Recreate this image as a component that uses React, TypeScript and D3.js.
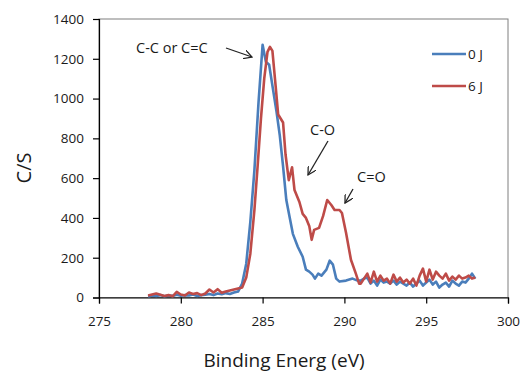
import React, { useRef, useEffect } from 'react';
import { select, scaleLinear, line, axisLeft, axisBottom } from 'd3';

// 0 J spectrum
const energy0 = [
  278.0, 278.25, 278.5, 278.75, 279.0, 279.25, 279.5, 279.75, 280.0, 280.25, 280.5, 280.75,
  281.0, 281.25, 281.5, 281.75, 282.0, 282.25, 282.5, 282.75, 283.0, 283.25, 283.5, 283.75,
  284.0, 284.25, 284.5, 284.75, 285.0, 285.2, 285.4, 285.6, 285.85, 286.05, 286.25, 286.45,
  286.65, 286.85, 287.15, 287.45, 287.65, 287.85, 288.05, 288.2, 288.4, 288.6, 288.9, 289.1,
  289.3, 289.5, 289.7, 290.1, 290.5, 290.8, 291.0, 291.2, 291.4, 291.6, 291.8, 292.0, 292.2,
  292.4, 292.6, 292.8, 293.0, 293.2, 293.4, 293.6, 293.8, 294.0, 294.2, 294.4, 294.6, 294.8,
  295.0, 295.2, 295.4, 295.6, 295.8, 296.0, 296.2, 296.4, 296.6, 296.8, 297.0, 297.2, 297.4,
  297.6, 297.8, 298.0,
];
const counts0 = [
  5, 10, 8, 12, 6, 10, 8, 14, 9, 12, 10, 15,
  8, 12, 14, 18, 12, 20, 16, 22, 18, 25, 30, 70,
  170, 380, 640, 980, 1270, 1185, 1170, 1065, 935, 815, 660, 490,
  405, 320, 255, 205, 140, 130, 115, 95, 120, 110, 140, 185,
  165, 95, 80, 85, 95, 85, 85, 95, 100, 70, 85, 60, 90,
  75, 80, 70, 85, 65, 80, 70, 60, 75, 55, 70, 85, 60,
  75, 90, 65, 80, 50, 65, 75, 55, 85, 70, 60, 80, 75,
  95, 120, 95,
];

// 6 J spectrum
const energy6 = [
  278.0, 278.25, 278.5, 278.75, 279.0, 279.25, 279.5, 279.75, 280.0, 280.25, 280.5, 280.75,
  281.0, 281.25, 281.5, 281.75, 282.0, 282.25, 282.5, 282.75, 283.0, 283.25, 283.5, 283.75,
  284.0, 284.25, 284.5, 284.7, 284.9, 285.1, 285.3, 285.45, 285.6, 285.8, 285.95, 286.1,
  286.25, 286.4, 286.6, 286.8, 286.95, 287.1, 287.25, 287.45, 287.65, 287.85, 288.0, 288.15,
  288.45, 288.7, 288.95, 289.2, 289.4, 289.7, 289.85, 290.1, 290.4, 290.7, 290.9, 291.0,
  291.2, 291.4, 291.6, 291.8, 292.0, 292.2, 292.4, 292.6, 292.8, 293.0, 293.2, 293.4, 293.6,
  293.8, 294.0, 294.2, 294.4, 294.6, 294.8, 295.0, 295.2, 295.4, 295.6, 295.8, 296.0, 296.2,
  296.4, 296.6, 296.8, 297.0, 297.2, 297.4, 297.6, 297.8, 298.0,
];
const counts6 = [
  10, 15, 20, 14, 8, 12, 6, 28, 15, 10, 25, 18,
  22, 12, 20, 40, 25, 42, 24, 30, 35, 40, 45, 50,
  100, 220, 440, 665, 900, 1100, 1235, 1260, 1240, 1060, 920, 900,
  880, 720, 590, 655, 540, 510, 480, 420, 400, 360, 290, 340,
  350, 410, 490, 465, 440, 440, 425, 325, 190, 120, 70, 70,
  95, 120, 75, 130, 80, 110, 85, 95, 70, 115, 80, 100, 75,
  90, 70, 95, 60, 110, 145, 80, 140, 90, 130, 110, 95, 120,
  85, 105, 90, 110, 95, 100, 110, 95, 100,
];

const xTicks = [275, 280, 285, 290, 295, 300];
const yTicks = [0, 200, 400, 600, 800, 1000, 1200, 1400];
const seriesNames = ['0 J', '6 J'];
const seriesColors = ['#4a7ebb', '#be4b48'];

const FONT = '"Open Sans", "Liberation Sans", sans-serif';

export default function App() {
  const svgRef = useRef<SVGSVGElement>(null);

  useEffect(() => {
    const svg = select(svgRef.current);
    svg.selectAll('*').remove();

    const left = 99, right = 508, top = 19, bottom = 297.5;

    const x = scaleLinear().domain([275, 300]).range([left, right]);
    const y = scaleLinear().domain([0, 1400]).range([bottom, top]);

    const defs = svg.append('defs');
    defs
      .append('marker')
      .attr('id', 'arr')
      .attr('viewBox', '0 0 10 10')
      .attr('refX', 9)
      .attr('refY', 5)
      .attr('markerWidth', 9)
      .attr('markerHeight', 9)
      .attr('markerUnits', 'userSpaceOnUse')
      .attr('orient', 'auto')
      .append('path')
      .attr('d', 'M0,0 L9,5 L0,10')
      .attr('fill', 'none')
      .attr('stroke', '#222')
      .attr('stroke-width', 1.4);

    // plot frame
    svg
      .append('rect')
      .attr('x', left)
      .attr('y', top)
      .attr('width', right - left)
      .attr('height', bottom - top)
      .attr('fill', 'none')
      .attr('stroke', '#7f7f7f')
      .attr('stroke-width', 1);

    const yAxis = svg
      .append('g')
      .attr('transform', `translate(${left},0)`)
      .call(
        axisLeft(y)
          .tickValues(yTicks)
          .tickFormat(d => String(d))
          .tickSize(6)
          .tickPadding(9)
      );
    const xAxis = svg
      .append('g')
      .attr('transform', `translate(0,${bottom})`)
      .call(
        axisBottom(x)
          .tickValues(xTicks)
          .tickFormat(d => String(d))
          .tickSize(6)
          .tickPadding(13)
      );

    [yAxis, xAxis].forEach(g => {
      g.select('.domain').attr('stroke', '#000').attr('stroke-width', 1.2);
      g.selectAll('.tick line').attr('stroke', '#000').attr('stroke-width', 1.2);
      g.selectAll('.tick text')
        .attr('fill', '#1a1a1a')
        .style('font-family', FONT)
        .style('font-size', '13.5px');
    });

    const path = line<[number, number]>()
      .x(d => x(d[0]))
      .y(d => y(d[1]));

    const series = [
      { e: energy0, c: counts0 },
      { e: energy6, c: counts6 },
    ];

    series.forEach((s, k) => {
      const pts = s.e.map((e, i) => [e, s.c[i]] as [number, number]);
      svg
        .append('path')
        .datum(pts)
        .attr('d', path)
        .attr('fill', 'none')
        .attr('stroke', seriesColors[k])
        .attr('stroke-width', 2.6)
        .attr('stroke-linejoin', 'round');
    });

    // legend
    seriesNames.forEach((name, k) => {
      const ly = 54 + k * 32;
      svg
        .append('line')
        .attr('x1', 432)
        .attr('x2', 466)
        .attr('y1', ly)
        .attr('y2', ly)
        .attr('stroke', seriesColors[k])
        .attr('stroke-width', 2.6);
      svg
        .append('text')
        .attr('x', 468)
        .attr('y', ly + 5)
        .attr('fill', '#1a1a1a')
        .style('font-family', FONT)
        .style('font-size', '13.5px')
        .text(name);
    });

    // annotations
    const notes = [
      { t: 'C-C or C=C', tx: 136, ty: 53, a: [226, 48, 252, 57] },
      { t: 'C-O', tx: 310, ty: 135, a: [328, 141, 308, 175] },
      { t: 'C=O', tx: 357, ty: 182, a: [353, 189, 345, 203] },
    ];
    notes.forEach(n => {
      svg
        .append('text')
        .attr('x', n.tx)
        .attr('y', n.ty)
        .attr('fill', '#1a1a1a')
        .style('font-family', FONT)
        .style('font-size', '14.5px')
        .text(n.t);
      svg
        .append('line')
        .attr('x1', n.a[0])
        .attr('y1', n.a[1])
        .attr('x2', n.a[2])
        .attr('y2', n.a[3])
        .attr('stroke', '#222')
        .attr('stroke-width', 1.3)
        .attr('marker-end', 'url(#arr)');
    });

    // axis titles
    svg
      .append('text')
      .attr('x', 284)
      .attr('y', 367)
      .attr('text-anchor', 'middle')
      .attr('fill', '#1a1a1a')
      .style('font-family', FONT)
      .style('font-size', '19px')
      .text('Binding Energ (eV)');
    svg
      .append('text')
      .attr('transform', 'translate(31,168) rotate(-90)')
      .attr('text-anchor', 'middle')
      .attr('fill', '#1a1a1a')
      .style('font-family', FONT)
      .style('font-size', '20px')
      .text('C/S');
  }, []);

  return (
    <svg
      ref={svgRef}
      width={521}
      height={372}
      style={{ position: 'absolute', left: 0, top: 0, background: '#fff' }}
    />
  );
}
